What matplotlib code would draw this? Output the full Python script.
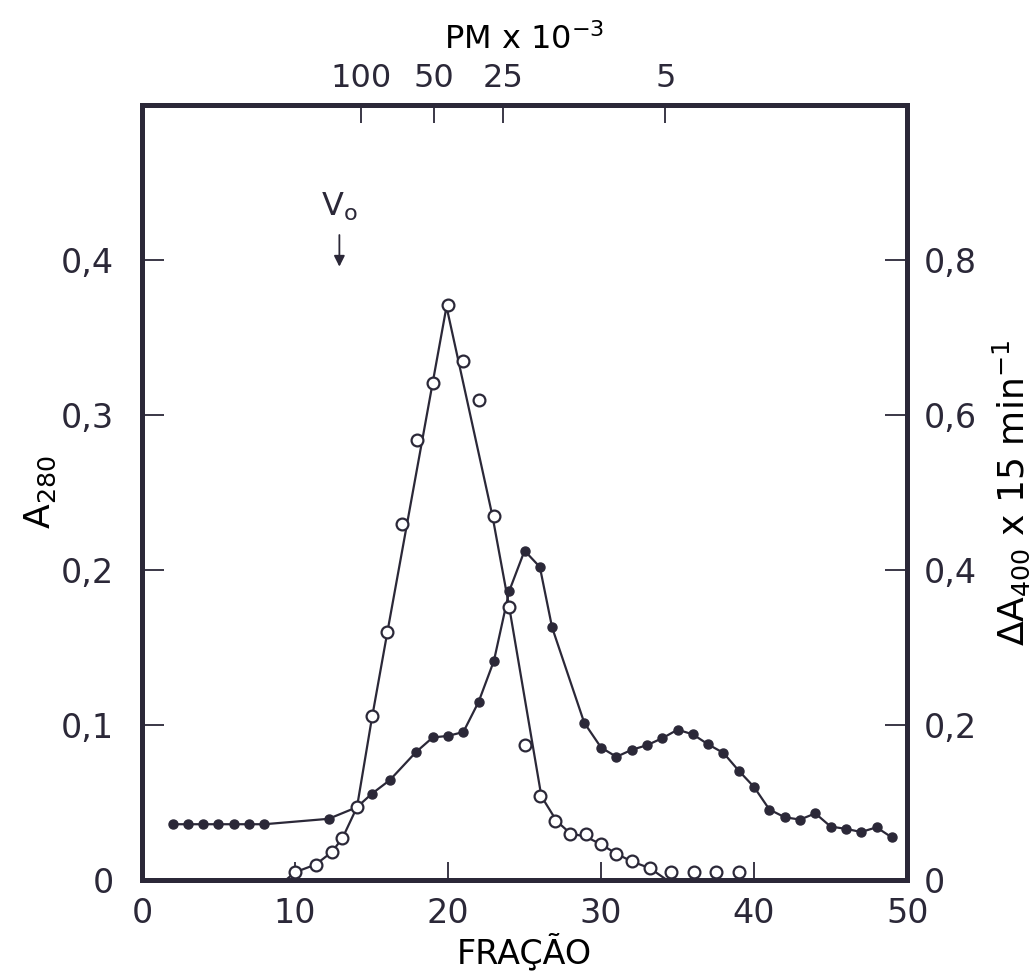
import matplotlib
matplotlib.use("Agg")
from matplotlib import pyplot as plt

# A280 (open circles, left axis)
frac_a280 = [10.0, 11.35, 12.4, 13.1, 14.05, 15, 16, 17, 18, 19, 20, 21, 22, 23, 24, 25,
             26, 27, 28, 29, 30, 31, 32, 33.2, 34.6, 36.1, 37.5, 39.0]
a280 = [0.005, 0.010, 0.018, 0.027, 0.047, 0.106, 0.160, 0.230, 0.284, 0.321, 0.371, 0.335,
        0.310, 0.235, 0.176, 0.087, 0.054, 0.038, 0.030, 0.030, 0.023, 0.017, 0.012, 0.0076,
        0.005, 0.005, 0.005, 0.005]
# hand-drawn curve through the A280 points
curve_a280_x = [7.8, 9.4, 10.0, 11.35, 12.4, 13.1, 14.05, 15, 16, 19.9, 22.9, 24, 26.1,
                27.1, 28, 29, 30, 31, 32, 33.2, 34.3, 40]
curve_a280_y = [0.0, 0.0, 0.005, 0.010, 0.018, 0.027, 0.047, 0.103, 0.158, 0.370, 0.235,
                0.176, 0.054, 0.038, 0.030, 0.028, 0.023, 0.017, 0.012, 0.0076, 0.0, 0.0]

# delta A400 x 15 min-1 (filled circles, right axis)
frac_a400 = [2, 3, 4, 5, 6, 7, 8, 12.2, 14.05, 15, 16.2, 17.9, 19, 20, 21, 22, 23, 24, 25,
             26, 26.8, 28.9, 30, 31, 32, 33, 34, 35, 36, 37, 38, 39, 40, 41, 42, 43, 44,
             45, 46, 47, 48, 49]
a400 = [0.072, 0.072, 0.072, 0.072, 0.072, 0.072, 0.072, 0.079, 0.094, 0.111, 0.129, 0.165,
        0.184, 0.186, 0.191, 0.230, 0.283, 0.373, 0.425, 0.404, 0.326, 0.203, 0.171, 0.159,
        0.168, 0.174, 0.183, 0.194, 0.188, 0.175, 0.164, 0.141, 0.120, 0.091, 0.081, 0.078,
        0.086, 0.069, 0.066, 0.062, 0.068, 0.055]

# molecular weight markers (top axis)
pm_pos = [14.3, 19.1, 23.6, 34.2]
pm_labels = ["100", "50", "25", "5"]
v0_pos = 12.9

ink = "#2b2838"
plt.rcParams['font.family'] = ['DejaVu Sans']
plt.rcParams['text.color'] = ink
plt.rcParams['axes.edgecolor'] = ink
plt.rcParams['xtick.color'] = ink
plt.rcParams['ytick.color'] = ink
plt.rcParams['mathtext.default'] = 'regular'

fig = plt.figure(figsize=(10.34, 9.71), dpi=100)
ax = fig.add_axes([0.1373, 0.0937, 0.740, 0.798])
ax2 = ax.twinx()

ax2.plot(frac_a400, a400, color=ink, lw=1.6, marker='o', ms=6.5, mfc=ink, mec=ink, zorder=3)
ax.plot(curve_a280_x, curve_a280_y, color=ink, lw=1.6, zorder=2)
ax.set_zorder(ax2.get_zorder() + 1)
ax.patch.set_visible(False)
ax.plot(frac_a280, a280, ls='none', marker='o', ms=8.5, mfc='white', mec=ink, mew=1.6, zorder=4)

ax.set_xlim(0, 50)
ax.set_ylim(0, 0.5)
ax2.set_ylim(0, 1.0)

ax.set_xticks([0, 10, 20, 30, 40, 50])
ax.set_yticks([0, 0.1, 0.2, 0.3, 0.4])
ax.set_yticklabels(["0", "0,1", "0,2", "0,3", "0,4"])
ax2.set_yticks([0, 0.2, 0.4, 0.6, 0.8])
ax2.set_yticklabels(["0", "0,2", "0,4", "0,6", "0,8"])

ax.tick_params(axis='x', direction='in', length=13, width=1.3, labelsize=24, pad=12)
ax.tick_params(axis='y', direction='in', length=16, width=1.3, labelsize=24, pad=20)
ax2.tick_params(axis='y', direction='in', length=16, width=1.3, labelsize=24, pad=12)

for a in (ax, ax2):
    for s in a.spines.values():
        s.set_linewidth(3.6)
        s.set_color(ink)

top = ax.secondary_xaxis('top')
top.set_xticks(pm_pos)
top.set_xticklabels(pm_labels)
top.tick_params(direction='in', length=13, width=1.3, labelsize=23, pad=8)
top.spines['top'].set_linewidth(3.6)
top.set_xlabel("PM x 10$^{-3}$", fontsize=23, labelpad=10)

ax.set_xlabel("FRAÇÃO", fontsize=24, labelpad=2)
ax.set_ylabel("A$_{280}$", fontsize=26, labelpad=2)
ax2.set_ylabel("ΔA$_{400}$ x 15 min$^{-1}$", fontsize=26, labelpad=10)

ax.annotate("", xy=(v0_pos, 0.394), xytext=(v0_pos, 0.418),
            arrowprops=dict(arrowstyle='-|>', color=ink, lw=1.3, mutation_scale=16))
ax.text(v0_pos, 0.424, "V$_o$", fontsize=23, ha='center', va='bottom')

fig.savefig("out.png", dpi=100, facecolor='white')
